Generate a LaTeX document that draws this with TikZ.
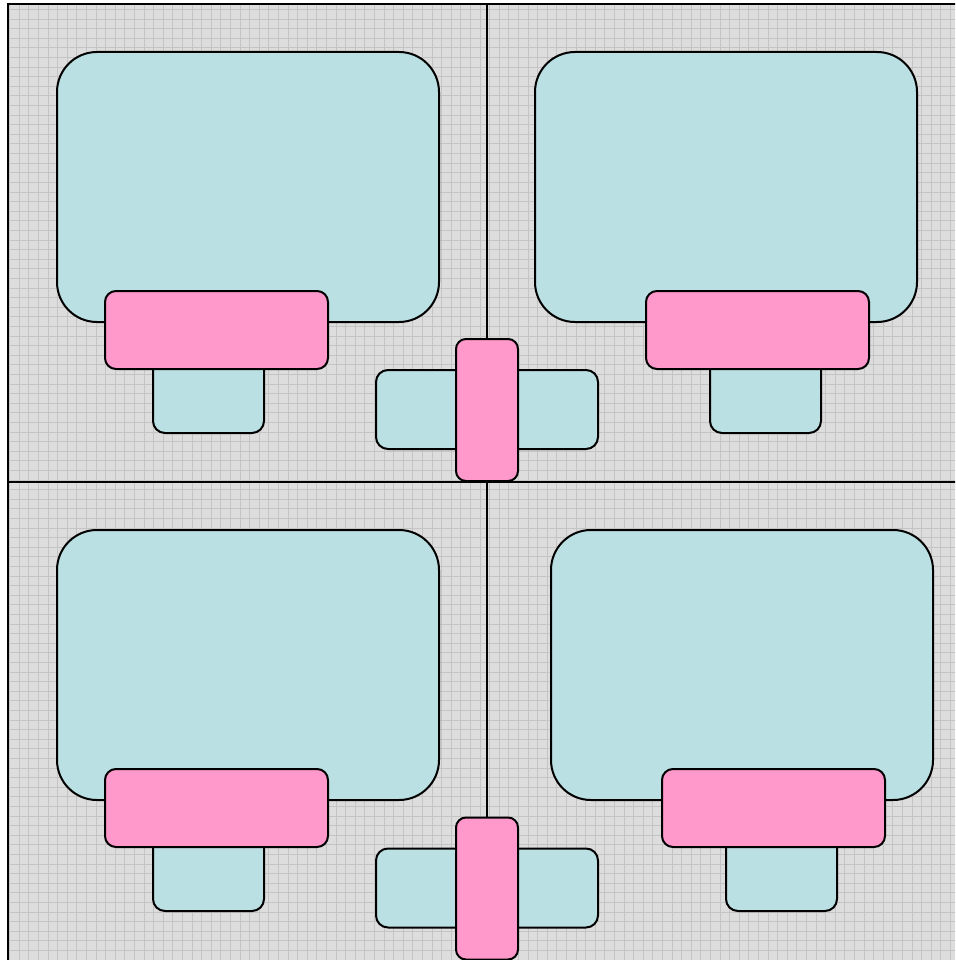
\documentclass[tikz,border=0pt]{standalone}
\usepackage{tikz}
\usetikzlibrary{positioning}
\definecolor{deskcol}{HTML}{BBE0E3}
\definecolor{seatcol}{HTML}{FF99CC}
\definecolor{floorcol}{HTML}{DDDDDD}
\definecolor{gridcol}{HTML}{C4C4C4}
\begin{document}
\begin{tikzpicture}[
  x=1pt,y=-1pt,
  desk/.style={draw,line width=2pt,fill=deskcol,rounded corners=40pt,
               minimum width=382pt,minimum height=270pt,inner sep=0pt},
  seat/.style={draw,line width=2pt,fill=seatcol,rounded corners=11pt,
               minimum width=223pt,minimum height=78pt,inner sep=0pt},
  stool/.style={draw,line width=2pt,fill=deskcol,rounded corners=12pt,
                minimum width=111pt,minimum height=93pt,inner sep=0pt},
  bench/.style={draw,line width=2pt,fill=deskcol,rounded corners=12pt,
                minimum width=222pt,minimum height=79pt,inner sep=0pt},
  post/.style={draw,line width=2pt,fill=seatcol,rounded corners=10pt,
               minimum width=62pt,minimum height=142pt,inner sep=0pt},
  wall/.style={line width=2.4pt}
]
\useasboundingbox (0,0) rectangle (955,960);
\clip (0,0) rectangle (955,960);
% floor
\fill[white] (0,0) rectangle (955,960);
\fill[floorcol] (8,4) rectangle (960,965);
\draw[gridcol,line width=1pt,step=9.6pt] (8,4) grid (960,965);
\draw[wall] (8,965) -- (8,4) -- (960,4);
\draw[wall] (487,4) -- (487,965);
\draw[wall] (8,482) -- (960,482);

% top left
\node[desk]  (deskA)  at (248,187) {};
\node[stool] (stoolA) at (208.5,386.5) {};
\node[seat]  (seatA)  at (216.5,330) {};

% top right
\node[desk]  (deskB)  at (726,187) {};
\node[stool] (stoolB) at (765.5,386.5) {};
\node[seat]  (seatB)  at (757.5,330) {};

% middle top
\node[bench] (benchA) at (487,409.5) {};
\node[post]  (postA)  at (487,410) {};

% bottom left
\node[desk]  (deskC)  at (248,665) {};
\node[stool] (stoolC) at (208.5,864.5) {};
\node[seat]  (seatC)  at (216.5,808) {};

% bottom right
\node[desk]  (deskD)  at (742,665) {};
\node[stool] (stoolD) at (781.5,864.5) {};
\node[seat]  (seatD)  at (773.5,808) {};

% middle bottom
\node[bench] (benchB) at (487,888) {};
\node[post]  (postB)  at (487,888.5) {};
\end{tikzpicture}
\end{document}
